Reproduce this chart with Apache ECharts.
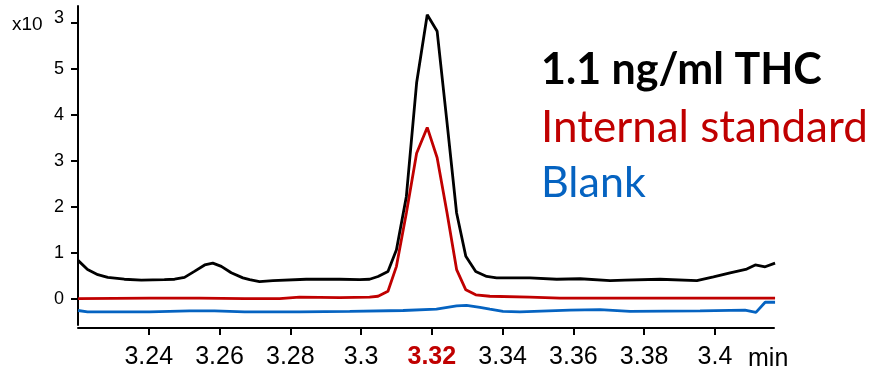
<!DOCTYPE html>
<html>
<head>
<meta charset="utf-8">
<title>THC chromatogram</title>
<script src="https://cdn.jsdelivr.net/npm/echarts@6.0.0/dist/echarts.min.js"></script>
<style>
    html, body { margin: 0; padding: 0; background: #fff; }
    #chart { width: 875px; height: 374px; }
</style>
</head>
<body>
<div id="chart"></div>
<script>
    // retention time (min) and abundance (x10^3)
    var thcTimes = [3.2200, 3.2227, 3.2256, 3.2284, 3.2331, 3.2379, 3.2444, 3.2473, 3.2501, 3.2529,
        3.2558, 3.2581, 3.2605, 3.2633, 3.2666, 3.2685, 3.2713, 3.2751, 3.2845, 3.2940,
        3.2996, 3.3024, 3.3048, 3.3076, 3.3100, 3.3128, 3.3157, 3.3187, 3.3215, 3.3243,
        3.3270, 3.3296, 3.3324, 3.3355, 3.3383, 3.3477, 3.3553, 3.3619, 3.3704, 3.3746,
        3.3845, 3.3949, 3.3996, 3.4043, 3.4090, 3.4114, 3.4142, 3.4170];
    var thcValues = [0.84, 0.64, 0.53, 0.47, 0.43, 0.41, 0.42, 0.43, 0.47, 0.60,
        0.74, 0.78, 0.71, 0.57, 0.46, 0.42, 0.38, 0.40, 0.43, 0.43,
        0.42, 0.43, 0.49, 0.60, 1.07, 2.23, 4.70, 6.18, 5.82, 3.83,
        1.87, 0.93, 0.60, 0.49, 0.46, 0.46, 0.43, 0.44, 0.40, 0.41,
        0.43, 0.40, 0.48, 0.57, 0.65, 0.74, 0.70, 0.78];

    var istdTimes = [3.2200, 3.2402, 3.2543, 3.2671, 3.2770, 3.2826, 3.2940, 3.3024, 3.3048, 3.3076,
        3.3100, 3.3128, 3.3157, 3.3187, 3.3215, 3.3243, 3.3270, 3.3296, 3.3324, 3.3364,
        3.3477, 3.3562, 3.3760, 3.3958, 3.4170];
    var istdValues = [0.01, 0.02, 0.02, 0.01, 0.01, 0.04, 0.03, 0.04, 0.06, 0.17,
        0.71, 1.87, 3.17, 3.73, 3.07, 1.87, 0.64, 0.20, 0.09, 0.06,
        0.04, 0.02, 0.02, 0.02, 0.02];

    var blankTimes = [3.2200, 3.2227, 3.2402, 3.2515, 3.2586, 3.2671, 3.2826, 3.2968, 3.3119, 3.3213,
        3.3270, 3.3298, 3.3336, 3.3364, 3.3401, 3.3449, 3.3590, 3.3675, 3.3760, 3.3958,
        3.4085, 3.4116, 3.4142, 3.4170];
    var blankValues = [-0.25, -0.28, -0.28, -0.26, -0.26, -0.28, -0.28, -0.27, -0.25, -0.22,
        -0.15, -0.14, -0.18, -0.22, -0.27, -0.28, -0.24, -0.23, -0.27, -0.26,
        -0.24, -0.29, -0.07, -0.07];

    var xTicks = [3.24, 3.26, 3.28, 3.3, 3.32, 3.34, 3.36, 3.38, 3.4];
    var yTicks = [0, 1, 2, 3, 4, 5, 6];
    var legendNames = ['1.1 ng/ml THC', 'Internal standard', 'Blank'];

    function pairs(times, values) {
        var out = [];
        for (var i = 0; i < times.length; i++) {
            out.push([times[i], values[i]]);
        }
        return out;
    }

    var chart = echarts.init(document.getElementById('chart'), null, { renderer: 'canvas' });

    chart.setOption({
        animation: false,
        backgroundColor: '#fff',
        grid: { left: 78, right: 101, top: 6, bottom: 49, containLabel: false },
        xAxis: {
            type: 'value',
            min: 3.22,
            max: 3.4167,
            offset: 3,
            splitLine: { show: false },
            axisLine: { show: true, onZero: false, lineStyle: { color: '#000', width: 2 } },
            axisTick: { show: true, length: 7, customValues: xTicks, lineStyle: { color: '#000', width: 2 } },
            axisLabel: {
                customValues: xTicks,
                margin: 17,
                color: '#000',
                fontFamily: 'Liberation Sans',
                fontSize: 25,
                formatter: function (v) {
                    if (Math.abs(v - 3.32) < 1e-6) return '{hi|3.32}';
                    return String(Math.round(v * 100) / 100);
                },
                rich: {
                    hi: { color: '#c00000', fontWeight: 'bold', fontFamily: 'Liberation Sans', fontSize: 25 }
                }
            }
        },
        yAxis: {
            type: 'value',
            min: -0.565,
            max: 6.37,
            splitLine: { show: false },
            axisLine: { show: true, onZero: false, lineStyle: { color: '#000', width: 2 } },
            axisTick: { show: true, length: 7, customValues: yTicks, lineStyle: { color: '#000', width: 2 } },
            axisLabel: {
                customValues: yTicks,
                margin: 14,
                color: '#000',
                fontFamily: 'Liberation Sans',
                fontSize: 18,
                formatter: function (v) {
                    if (v === 6) return '{exp|3}';
                    return String(v);
                },
                rich: {
                    exp: { color: '#000', fontFamily: 'Liberation Sans', fontSize: 18, padding: [0, 0, 9, 0] }
                }
            }
        },
        graphic: [
            { type: 'text', left: 12, top: 15, style: { text: 'x10', fill: '#000', font: '19px "Liberation Sans"' } },
            { type: 'text', left: 748, top: 347, style: { text: 'min', fill: '#000', font: '25px "Liberation Sans"' } },
            { type: 'text', left: 541, top: 49, style: { text: legendNames[0], fill: '#000', font: 'bold 43px Lato' } },
            { type: 'text', left: 541, top: 106, style: { text: legendNames[1], fill: '#c00000', font: '44px Lato' } },
            { type: 'text', left: 541, top: 162, style: { text: legendNames[2], fill: '#0563c1', font: '43px Lato' } }
        ],
        series: [
            {
                name: legendNames[2], type: 'line', showSymbol: false, symbol: 'none',
                data: pairs(blankTimes, blankValues),
                lineStyle: { color: '#0563c1', width: 2.8 }
            },
            {
                name: legendNames[1], type: 'line', showSymbol: false, symbol: 'none',
                data: pairs(istdTimes, istdValues),
                lineStyle: { color: '#c00000', width: 2.8 }
            },
            {
                name: legendNames[0], type: 'line', showSymbol: false, symbol: 'none',
                data: pairs(thcTimes, thcValues),
                lineStyle: { color: '#000', width: 2.8 }
            }
        ]
    });
</script>
</body>
</html>
